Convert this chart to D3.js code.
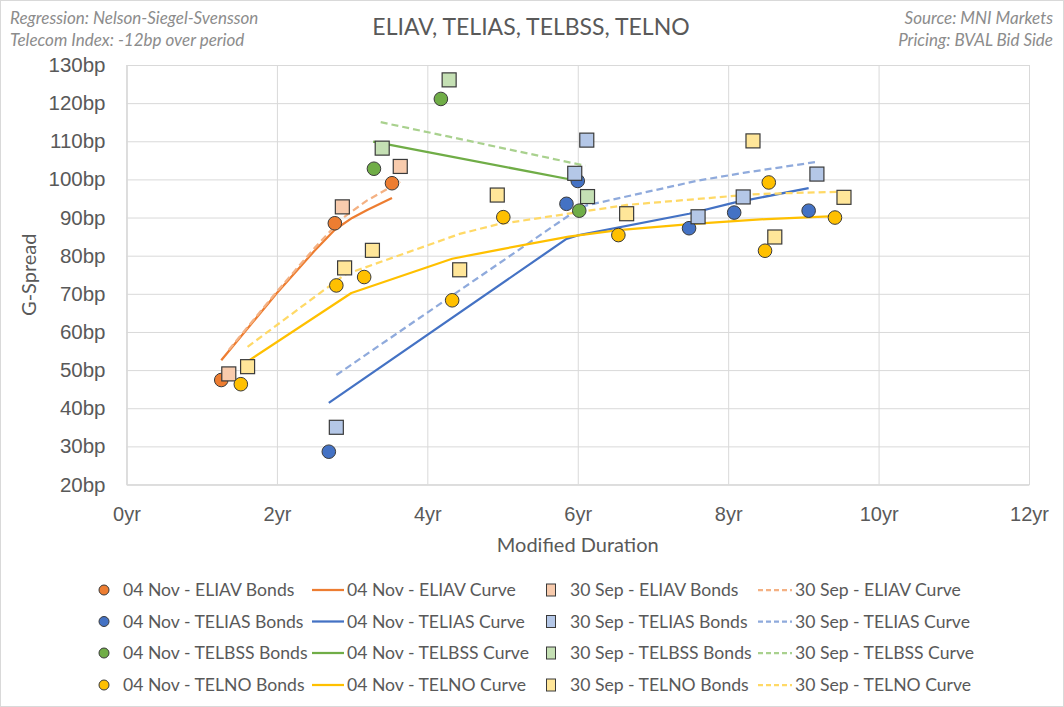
<!DOCTYPE html>
<html>
<head>
<meta charset="utf-8">
<script src="https://cdn.jsdelivr.net/npm/d3@7"></script>
<style>
  body { margin: 0; background: #fff; }
  svg { font-family: Lato, "Open Sans", sans-serif; }
</style>
</head>
<body>
<svg id="chart" width="1064" height="707"></svg>
<script>
// ---- data ----
const xTicks = [0, 2, 4, 6, 8, 10, 12];
const yTicks = [20, 30, 40, 50, 60, 70, 80, 90, 100, 110, 120, 130];

const novEliavBondsX = [1.26, 2.77, 3.53];
const novEliavBondsY = [47.4, 88.5, 99.0];
const sepEliavBondsX = [1.36, 2.87, 3.64];
const sepEliavBondsY = [49.0, 92.8, 103.4];
const novEliavCurveX = [1.26, 2.0, 2.5, 2.77, 3.0, 3.2, 3.53];
const novEliavCurveY = [52.6, 70.2, 81.3, 86.8, 89.9, 92.0, 95.1];
const sepEliavCurveX = [1.36, 2.0, 2.5, 2.87, 3.2, 3.64];
const sepEliavCurveY = [55.3, 70.6, 82.0, 89.8, 94.5, 99.4];

const novTeliasBondsX = [2.69, 5.85, 6.00, 7.48, 8.08, 9.07];
const novTeliasBondsY = [28.6, 93.6, 99.6, 87.2, 91.3, 91.8];
const sepTeliasBondsX = [2.79, 5.96, 6.12, 7.60, 8.20, 9.18];
const sepTeliasBondsY = [35.0, 101.6, 110.3, 90.2, 95.4, 101.4];
const novTeliasCurveX = [2.69, 5.85, 6.00, 7.48, 8.08, 9.07];
const novTeliasCurveY = [41.4, 84.4, 85.3, 91.0, 93.9, 97.7];
const sepTeliasCurveX = [2.79, 5.96, 6.12, 7.60, 8.20, 9.18];
const sepTeliasCurveY = [48.7, 91.6, 93.2, 99.7, 101.7, 104.6];

const novTelbssBondsX = [3.29, 4.18, 6.02];
const novTelbssBondsY = [102.8, 121.1, 91.8];
const sepTelbssBondsX = [3.40, 4.29, 6.13];
const sepTelbssBondsY = [108.2, 126.1, 95.5];
const novTelbssCurveX = [3.28, 4.18, 5.94];
const novTelbssCurveY = [109.9, 106.5, 99.85];
const sepTelbssCurveX = [3.38, 4.29, 6.10];
const sepTelbssCurveY = [115.0, 111.2, 103.6];

const novTelnoBondsX = [1.52, 2.79, 3.16, 4.33, 5.01, 6.54, 8.49, 8.54, 9.42];
const novTelnoBondsY = [46.3, 72.2, 74.4, 68.3, 90.1, 85.4, 81.3, 99.2, 90.0];
const sepTelnoBondsX = [1.61, 2.90, 3.27, 4.43, 4.93, 6.65, 8.33, 8.62, 9.54];
const sepTelnoBondsY = [50.9, 76.8, 81.4, 76.3, 95.9, 91.0, 110.1, 84.9, 95.3];
const novTelnoCurveX = [1.52, 2.99, 4.33, 5.01, 5.88, 6.54, 7.49, 8.51, 9.42];
const novTelnoCurveY = [51.1, 70.2, 79.2, 81.8, 85.0, 86.7, 88.3, 89.6, 90.4];
const sepTelnoCurveX = [1.61, 2.90, 3.27, 4.43, 4.93, 6.65, 8.33, 8.62, 9.54];
const sepTelnoCurveY = [56.1, 75.0, 77.6, 85.7, 88.2, 93.3, 96.1, 96.3, 96.8];

const issuers = ["ELIAV", "TELIAS", "TELBSS", "TELNO"];
const colors = {
  ELIAV:  { dark: "#ED7D31", light: "#F8CBAD", dash: "#F4B183" },
  TELIAS: { dark: "#4472C4", light: "#B4C7E7", dash: "#8FAADC" },
  TELBSS: { dark: "#70AD47", light: "#C5E0B4", dash: "#A9D18E" },
  TELNO:  { dark: "#FFC000", light: "#FFE699", dash: "#FFD966" }
};

const zip = (xs, ys) => xs.map((x, i) => ({ x, y: ys[i] }));
const series = {
  ELIAV: {
    novBonds: zip(novEliavBondsX, novEliavBondsY), sepBonds: zip(sepEliavBondsX, sepEliavBondsY),
    novCurve: zip(novEliavCurveX, novEliavCurveY), sepCurve: zip(sepEliavCurveX, sepEliavCurveY)
  },
  TELIAS: {
    novBonds: zip(novTeliasBondsX, novTeliasBondsY), sepBonds: zip(sepTeliasBondsX, sepTeliasBondsY),
    novCurve: zip(novTeliasCurveX, novTeliasCurveY), sepCurve: zip(sepTeliasCurveX, sepTeliasCurveY)
  },
  TELBSS: {
    novBonds: zip(novTelbssBondsX, novTelbssBondsY), sepBonds: zip(sepTelbssBondsX, sepTelbssBondsY),
    novCurve: zip(novTelbssCurveX, novTelbssCurveY), sepCurve: zip(sepTelbssCurveX, sepTelbssCurveY)
  },
  TELNO: {
    novBonds: zip(novTelnoBondsX, novTelnoBondsY), sepBonds: zip(sepTelnoBondsX, sepTelnoBondsY),
    novCurve: zip(novTelnoCurveX, novTelnoCurveY), sepCurve: zip(sepTelnoCurveX, sepTelnoCurveY)
  }
};

// ---- layout ----
const W = 1064, H = 707;
const plot = { left: 126.5, right: 1029, top: 65, bottom: 484.5 };
const grid = "#D9D9D9", textCol = "#595959", noteCol = "#8C8C8C";

const svg = d3.select("#chart");

svg.append("rect")
  .attr("x", 0.5).attr("y", 0.5)
  .attr("width", W - 1).attr("height", H - 1)
  .attr("fill", "#fff").attr("stroke", grid);

const x = d3.scaleLinear().domain([0, 12]).range([plot.left, plot.right]);
const y = d3.scaleLinear().domain([20, 130]).range([plot.bottom, plot.top]);

// gridlines
const xGrid = d3.axisBottom(x).tickValues(xTicks).tickSize(-(plot.bottom - plot.top)).tickFormat("");
svg.append("g")
  .attr("transform", `translate(0,${plot.bottom})`)
  .call(xGrid)
  .call(g => g.select(".domain").attr("stroke", grid))
  .call(g => g.selectAll(".tick line").attr("stroke", grid));

const yGrid = d3.axisLeft(y).tickValues(yTicks).tickSize(-(plot.right - plot.left)).tickFormat("");
svg.append("g")
  .attr("transform", `translate(${plot.left},0)`)
  .call(yGrid)
  .call(g => g.select(".domain").attr("stroke", grid))
  .call(g => g.selectAll(".tick line").attr("stroke", grid));

// tick labels
const xAxis = d3.axisBottom(x).tickValues(xTicks).tickSize(0).tickPadding(22).tickFormat(d => d + "yr");
svg.append("g")
  .attr("transform", `translate(0,${plot.bottom})`)
  .call(xAxis)
  .call(g => g.select(".domain").remove())
  .call(g => g.selectAll("text").attr("fill", textCol).attr("font-size", 20).attr("font-family", null));

const yAxis = d3.axisLeft(y).tickValues(yTicks).tickSize(0).tickPadding(21).tickFormat(d => d + "bp");
svg.append("g")
  .attr("transform", `translate(${plot.left},0)`)
  .call(yAxis)
  .call(g => g.select(".domain").remove())
  .call(g => g.selectAll("text").attr("fill", textCol).attr("font-size", 20.5).attr("font-family", null));

// axis titles
svg.append("text")
  .attr("x", (plot.left + plot.right) / 2).attr("y", 552)
  .attr("text-anchor", "middle").attr("fill", textCol).attr("font-size", 20)
  .text("Modified Duration");

svg.append("text")
  .attr("transform", `translate(36,${(plot.top + plot.bottom) / 2}) rotate(-90)`)
  .attr("text-anchor", "middle").attr("fill", textCol).attr("font-size", 20)
  .text("G-Spread");

// title and notes
svg.append("text")
  .attr("x", 531).attr("y", 35)
  .attr("text-anchor", "middle").attr("fill", textCol).attr("font-size", 23)
  .text("ELIAV, TELIAS, TELBSS, TELNO");

const notes = [
  { text: "Regression: Nelson-Siegel-Svensson", x: 10, y: 24, anchor: "start" },
  { text: "Telecom Index: -12bp over period", x: 10, y: 46, anchor: "start" },
  { text: "Source: MNI Markets", x: 1053, y: 24, anchor: "end" },
  { text: "Pricing: BVAL Bid Side", x: 1053, y: 46, anchor: "end" }
];
svg.append("g").selectAll("text")
  .data(notes).enter().append("text")
  .attr("x", d => d.x).attr("y", d => d.y).attr("text-anchor", d => d.anchor)
  .attr("fill", noteCol).attr("font-size", 17).attr("font-style", "italic")
  .text(d => d.text);

// curves
const line = d3.line().x(d => x(d.x)).y(d => y(d.y));
const marks = svg.append("g");

issuers.forEach(name => {
  const s = series[name], c = colors[name];
  marks.append("path").datum(s.novCurve)
    .attr("d", line).attr("fill", "none")
    .attr("stroke", c.dark).attr("stroke-width", 2.25).attr("stroke-linejoin", "round");
  marks.append("path").datum(s.sepCurve)
    .attr("d", line).attr("fill", "none")
    .attr("stroke", c.dash).attr("stroke-width", 2.25)
    .attr("stroke-dasharray", "7,4");
});

// bonds
const outline = "#3A3A3A";
const sq = 14;
issuers.forEach(name => {
  const s = series[name], c = colors[name];
  marks.append("g").selectAll("circle")
    .data(s.novBonds).enter().append("circle")
    .attr("cx", d => x(d.x)).attr("cy", d => y(d.y)).attr("r", 6.8)
    .attr("fill", c.dark).attr("stroke", outline).attr("stroke-width", 1);
  marks.append("g").selectAll("rect")
    .data(s.sepBonds).enter().append("rect")
    .attr("x", d => x(d.x) - sq / 2).attr("y", d => y(d.y) - sq / 2)
    .attr("width", sq).attr("height", sq)
    .attr("fill", c.light).attr("stroke", outline).attr("stroke-width", 1.2);
});

// legend
const rowY = [590, 621.5, 653, 685];
const colX = [104, 312, 551, 758];
const legend = svg.append("g").attr("font-size", 17.6).attr("fill", textCol);
issuers.forEach((name, i) => {
  const c = colors[name], yy = rowY[i];
  const g = legend.append("g");
  g.append("circle").attr("cx", colX[0]).attr("cy", yy).attr("r", 5)
    .attr("fill", c.dark).attr("stroke", outline);
  g.append("text").attr("x", colX[0] + 19).attr("y", yy).attr("dy", "0.35em")
    .text(`04 Nov - ${name} Bonds`);
  g.append("line").attr("x1", colX[1]).attr("x2", colX[1] + 32).attr("y1", yy).attr("y2", yy)
    .attr("stroke", c.dark).attr("stroke-width", 2.25);
  g.append("text").attr("x", colX[1] + 35).attr("y", yy).attr("dy", "0.35em")
    .text(`04 Nov - ${name} Curve`);
  g.append("rect").attr("x", colX[2] - 4.5).attr("y", yy - 6).attr("width", 9).attr("height", 12)
    .attr("fill", c.light).attr("stroke", outline);
  g.append("text").attr("x", colX[2] + 19).attr("y", yy).attr("dy", "0.35em")
    .text(`30 Sep - ${name} Bonds`);
  g.append("line").attr("x1", colX[3]).attr("x2", colX[3] + 34).attr("y1", yy).attr("y2", yy)
    .attr("stroke", c.dash).attr("stroke-width", 2.25).attr("stroke-dasharray", "5,3");
  g.append("text").attr("x", colX[3] + 37).attr("y", yy).attr("dy", "0.35em")
    .text(`30 Sep - ${name} Curve`);
});
</script>
</body>
</html>
